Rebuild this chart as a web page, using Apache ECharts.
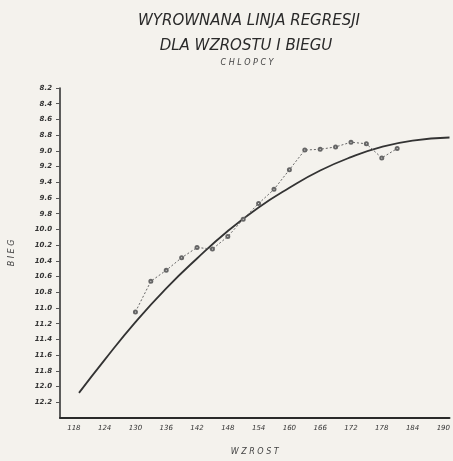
<!DOCTYPE html>
<html>
<head>
<meta charset="utf-8">
<script src="https://cdn.jsdelivr.net/npm/echarts@6/dist/echarts.min.js"></script>
<style>
html,body{margin:0;padding:0;background:#f4f2ed;}
#chart{width:453px;height:461px;}
</style>
</head>
<body>
<div id="chart"></div>
<script>
const titleLines = ['WYROWNANA LINJA REGRESJI', 'DLA WZROSTU I BIEGU', 'C H L O P C Y'];
const xAxisName = 'W Z R O S T';
const yAxisName = 'B I E G';
const xTicks = [118, 124, 130, 136, 142, 148, 154, 160, 166, 172, 178, 184, 190];
const yTicks = [8.2, 8.4, 8.6, 8.8, 9.0, 9.2, 9.4, 9.6, 9.8, 10.0, 10.2, 10.4, 10.6, 10.8, 11.0, 11.2, 11.4, 11.6, 11.8, 12.0, 12.2];
const heights = [130, 133, 136, 139, 142, 145, 148, 151, 154, 157, 160, 163, 166, 169, 172, 175, 178, 181];
const runTimes = [11.05, 10.66, 10.52, 10.36, 10.23, 10.25, 10.09, 9.87, 9.67, 9.49, 9.24, 8.99, 8.98, 8.95, 8.89, 8.91, 9.09, 8.97];
const fitHeights = [119, 124, 130, 136, 142, 148, 154, 160, 166, 172, 178, 184, 191.2];
const fitTimes = [12.08, 11.66, 11.18, 10.75, 10.37, 10.02, 9.72, 9.47, 9.25, 9.08, 8.95, 8.87, 8.83];

const chart = echarts.init(document.getElementById('chart'), null, {renderer: 'canvas'});
const ink = '#2a2a2a';
const font = 'DejaVu Sans';
chart.setOption({
  backgroundColor: '#f4f2ed',
  animation: false,
  title: [
    {text: titleLines[0], left: 244, top: 9, textAlign: 'center',
     textStyle: {fontFamily: font, fontStyle: 'italic', fontWeight: 'normal', fontSize: 15, color: ink}},
    {text: titleLines[1], left: 241, top: 34, textAlign: 'center',
     textStyle: {fontFamily: font, fontStyle: 'italic', fontWeight: 'normal', fontSize: 15, color: ink}},
    {text: titleLines[2], left: 242, top: 54, textAlign: 'center',
     textStyle: {fontFamily: font, fontStyle: 'italic', fontWeight: 'normal', fontSize: 8, color: '#444'}}
  ],
  grid: {left: 58, right: 0, top: 88, bottom: 41.5},
  xAxis: {
    type: 'value', min: 115.3, max: 191.2,
    name: xAxisName, nameLocation: 'middle', nameGap: 30,
    nameTextStyle: {fontFamily: font, fontStyle: 'italic', fontSize: 8, color: '#444'},
    axisLine: {lineStyle: {color: ink, width: 2}},
    axisTick: {show: false},
    splitLine: {show: false},
    axisLabel: {customValues: xTicks, margin: 7, fontFamily: font, fontStyle: 'italic', fontSize: 7, color: '#333',
      formatter: v => String(Math.round(v))}
  },
  yAxis: {
    type: 'value', min: 8.2, max: 12.4, inverse: true,
    name: yAxisName, nameLocation: 'middle', nameGap: 44, nameRotate: 90,
    nameTextStyle: {fontFamily: font, fontStyle: 'italic', fontSize: 8, color: '#444'},
    axisLine: {show: true, lineStyle: {color: ink, width: 1.5}},
    axisTick: {show: true, customValues: yTicks, length: 4, lineStyle: {color: '#555', width: 1}},
    splitLine: {show: false},
    axisLabel: {customValues: yTicks, margin: 8, fontFamily: font, fontStyle: 'italic', fontWeight: 'bold', fontSize: 7, color: '#333',
      formatter: v => v.toFixed(1)}
  },
  series: [
    {
      type: 'line', name: 'regresja', smooth: true, symbol: 'none',
      data: fitHeights.map((h, i) => [h, fitTimes[i]]),
      lineStyle: {color: '#333', width: 1.8}
    },
    {
      type: 'line', name: 'bieg', smooth: false, symbol: 'emptyCircle', symbolSize: 3,
      data: heights.map((h, i) => [h, runTimes[i]]),
      lineStyle: {color: '#666', width: 1, type: [2, 2]},
      itemStyle: {color: '#666', borderWidth: 1}
    }
  ]
});
</script>
</body>
</html>
